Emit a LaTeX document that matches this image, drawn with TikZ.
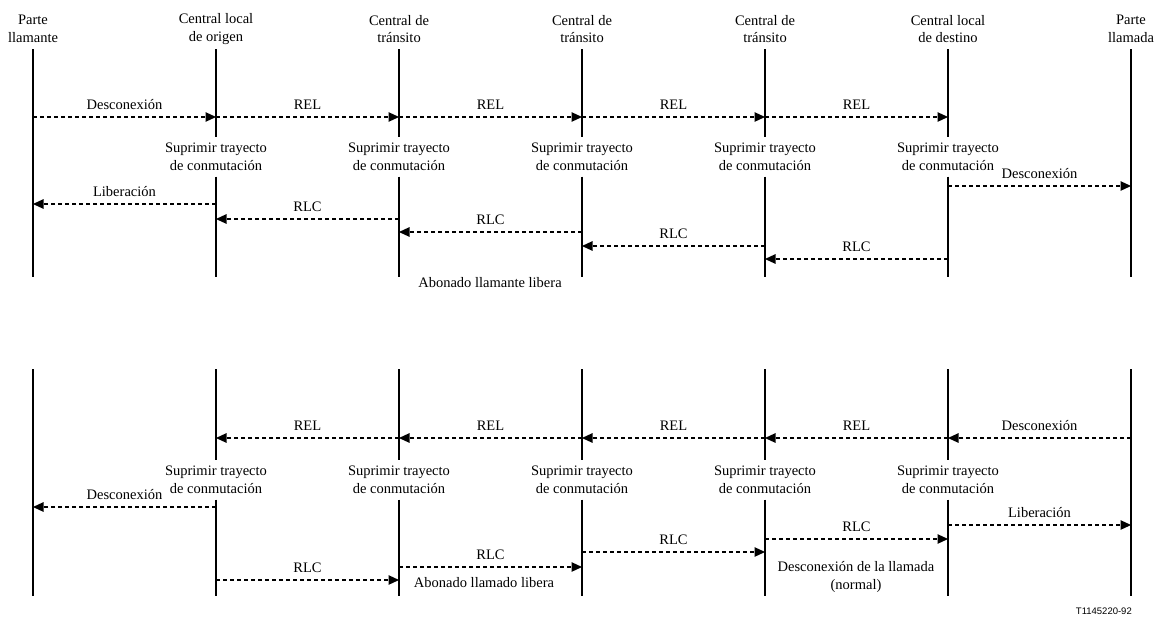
\documentclass[tikz,border=0pt]{standalone}
\usepackage{fontspec}
\setmainfont{Liberation Serif}
\newfontfamily\figfont{Liberation Sans}
\usetikzlibrary{arrows.meta}

\begin{document}
\begin{tikzpicture}[
		x=1pt, y=1pt,
		every node/.style={font=\fontsize{14.5}{17.5}\selectfont},
		head/.style={align=center, inner sep=0pt},
		supr/.style={align=center, inner sep=0pt, minimum height=39pt},
		lane/.style={draw, line width=1.4pt},
		msg/.style={draw, line width=1.1pt, dash pattern=on 4pt off 3pt, -{Triangle[length=10.5pt, width=9.5pt]}},
		lbl/.style={above, text height=10pt, text depth=3pt, inner sep=4pt}
	]
	\useasboundingbox (0,0) rectangle (1165,-616);

	% cabeceras
	\foreach \x/\txt in {1/{Parte\\llamante}, 2/{Central local\\de origen}, 3/{Central de\\tránsito}, 4/{Central de\\tránsito}, 5/{Central de\\tránsito}, 6/{Central local\\de destino}, 7/{Parte\\llamada}}{
		\node[head] at ({33+183*(\x-1)}, -29) (h\x) {\txt};
		\coordinate (t\x) at ({33+183*(\x-1)}, -49);
		\coordinate (b\x) at ({33+183*(\x-1)}, -277);
		\coordinate (T\x) at ({33+183*(\x-1)}, -369);
		\coordinate (B\x) at ({33+183*(\x-1)}, -596);
	}

	\draw[lane] (t1) -- (b1);
	\draw[lane] (t7) -- (b7);
	\draw[lane] (T1) -- (B1);
	\draw[lane] (T7) -- (B7);

	\foreach \x in {2,...,6}{
		\node[supr] at ({33+183*(\x-1)}, -157) (s\x) {Suprimir trayecto\\de conmutación};
		\node[supr] at ({33+183*(\x-1)}, -480) (S\x) {Suprimir trayecto\\de conmutación};
		\draw[lane] (t\x) -- (s\x) -- (b\x);
		\draw[lane] (T\x) -- (S\x) -- (B\x);
	}

	% liberacion por el abonado llamante
	\foreach \a/\b/\y/\txt in {1/2/117/Desconexión, 2/3/117/REL, 3/4/117/REL, 4/5/117/REL, 5/6/117/REL, 6/7/186/Desconexión, 2/1/204/Liberación, 3/2/219/RLC, 4/3/232/RLC, 5/4/246/RLC, 6/5/259/RLC}
		\draw[msg] (t\a |- 0,-\y) -- node[lbl] {\txt} (t\b |- 0,-\y);

	% liberacion por el abonado llamado
	\foreach \a/\b/\y/\txt in {7/6/438/Desconexión, 6/5/438/REL, 5/4/438/REL, 4/3/438/REL, 3/2/438/REL, 2/1/507/Desconexión, 2/3/580/RLC, 3/4/567/RLC, 4/5/552/RLC, 5/6/539/RLC, 6/7/525/Liberación}
		\draw[msg] (T\a |- 0,-\y) -- node[lbl] {\txt} (T\b |- 0,-\y);

	\node at (490, -283) (abon1) {Abonado llamante libera};
	\node at (484, -583) (abon2) {Abonado llamado libera};
	\node[align=center] at (856, -577) (normal) {Desconexión de la llamada\\(normal)};
	\node[anchor=east, inner sep=0pt, font=\figfont\fontsize{9.5}{11}\selectfont] at (1132, -611) (ref) {T1145220-92};

\end{tikzpicture}
\end{document}
